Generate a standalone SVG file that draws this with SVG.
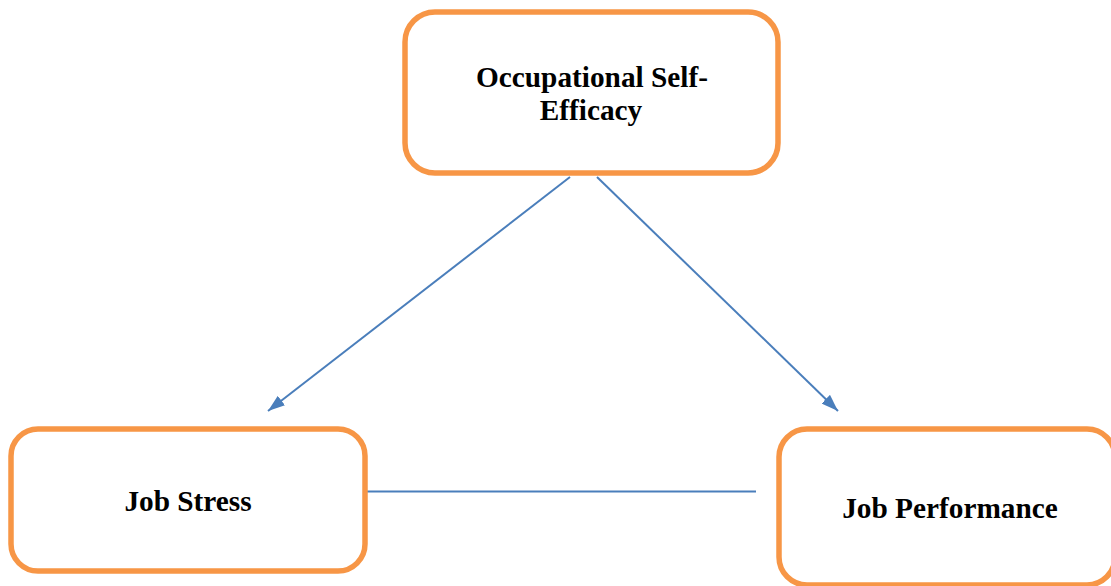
<svg xmlns="http://www.w3.org/2000/svg" width="1111" height="586" viewBox="0 0 1111 586">
<defs>
<style>
.box{fill:#fff;stroke:#F79646;stroke-width:5.5}
.lbl{font-family:"Liberation Serif","Times New Roman",serif;font-weight:bold;font-size:29.3px;fill:#000;text-anchor:middle}
.conn{stroke:#4A7EBB;stroke-width:2;fill:none}
</style>
<marker id="ah" viewBox="0 0 10 10" refX="10" refY="5" markerWidth="17" markerHeight="12" markerUnits="userSpaceOnUse" orient="auto" preserveAspectRatio="none">
<path d="M0,0 L10,5 L0,10 z" fill="#4A7EBB"/>
</marker>
</defs>
<rect width="1111" height="586" fill="#fff"/>
<g id="connectors">
<line class="conn" x1="570" y1="177" x2="268" y2="411" marker-end="url(#ah)"/>
<line class="conn" x1="597" y1="177" x2="838" y2="411" marker-end="url(#ah)"/>
<line class="conn" x1="366" y1="491.5" x2="756" y2="491.5"/>
</g>
<g id="node-ose">
<rect class="box" x="405" y="12" width="373" height="161" rx="30"/>
<text class="lbl" x="592" y="87">Occupational Self-</text>
<text class="lbl" x="591" y="120">Efficacy</text>
</g>
<g id="node-js">
<rect class="box" x="11" y="429" width="354" height="142" rx="27"/>
<text class="lbl" x="188" y="511">Job Stress</text>
</g>
<g id="node-jp">
<rect class="box" x="779" y="429" width="336" height="156" rx="28"/>
<text class="lbl" x="950" y="518">Job Performance</text>
</g>
</svg>
